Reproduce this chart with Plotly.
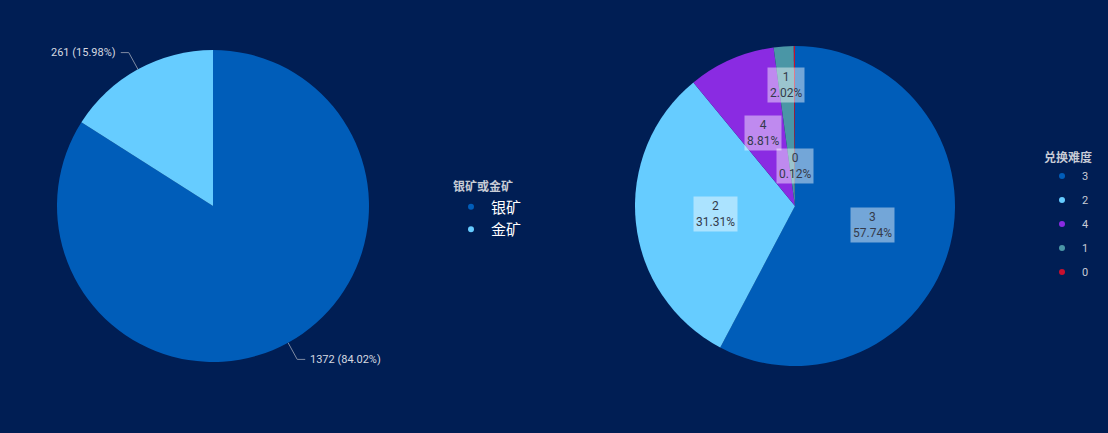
import math
import plotly.graph_objects as go

# ---------------- data ----------------
ore_labels = ["银矿", "金矿"]
ore_values = [1372, 261]

diff_labels = ["3", "2", "4", "1", "0"]
diff_pcts = [57.74, 31.31, 8.81, 2.02, 0.12]

# ---------------- style ----------------
W, H = 1108, 433
BG = "#001E54"
ore_colors = ["#005DB9", "#66CCFF"]
diff_colors = ["#005DB9", "#66CCFF", "#8A2BE2", "#4A96A6", "#C8102E"]
label_radius = [0.5, 0.5, 0.5, 0.76, 0.25]  # label placement factors for pie 2
FONT = "Roboto, 'Noto Sans CJK SC', sans-serif"

# pie geometry in pixels (centre, radius)
c1, r1 = (213, 206), 156
c2, r2 = (795, 206), 160


def dom(c, r):
    return dict(x=[(c[0] - r) / W, (c[0] + r) / W],
                y=[1 - (c[1] + r) / H, 1 - (c[1] - r) / H])


def px2paper(x, y):
    return x / W, 1 - y / H


fig = go.Figure()

fig.add_trace(go.Pie(
    labels=ore_labels, values=ore_values, sort=False, direction="clockwise",
    rotation=0, marker=dict(colors=ore_colors, line=dict(width=0)),
    textinfo="none", domain=dom(c1, r1), showlegend=False, hoverinfo="label+value+percent"))

fig.add_trace(go.Pie(
    labels=diff_labels, values=diff_pcts, sort=False, direction="clockwise",
    rotation=0, marker=dict(colors=diff_colors, line=dict(width=0)),
    textinfo="none", domain=dom(c2, r2), showlegend=False, hoverinfo="label+percent"))

# legend proxies (circle markers)
for lab, col in zip(ore_labels, ore_colors):
    fig.add_trace(go.Scatter(x=[None], y=[None], mode="markers", name=lab,
                             marker=dict(color=col, size=6, symbol="circle"),
                             legend="legend", legendgroup="o" + lab))
for lab, col in zip(diff_labels, diff_colors):
    fig.add_trace(go.Scatter(x=[None], y=[None], mode="markers", name=lab,
                             marker=dict(color=col, size=6, symbol="circle"),
                             legend="legend2", legendgroup="d" + lab))

annotations = []
shapes = []

# pie 1 outside labels with leader lines
tot1 = sum(ore_values)
cum = 0
for v in ore_values:
    frac = v / tot1
    mid = (cum + frac / 2) * 2 * math.pi
    cum += frac
    dx, dy = math.sin(mid), -math.cos(mid)
    p0 = (c1[0] + r1 * dx, c1[1] + r1 * dy)
    p1 = (c1[0] + (r1 + 19) * dx, c1[1] + (r1 + 19) * dy)
    side = 1 if dx >= 0 else -1
    p2 = (p1[0] + side * 8, p1[1])
    q0, q1, q2 = px2paper(*p0), px2paper(*p1), px2paper(*p2)
    shapes.append(dict(type="path", xref="paper", yref="paper",
                       path=f"M {q0[0]} {q0[1]} L {q1[0]} {q1[1]} L {q2[0]} {q2[1]}",
                       line=dict(color="#7F8BA3", width=1)))
    tx, ty = px2paper(p2[0] + side * 3, p2[1])
    annotations.append(dict(x=tx, y=ty, xref="paper", yref="paper", showarrow=False,
                            text=f"{v} ({frac * 100:.2f}%)",
                            xanchor="left" if side > 0 else "right", yanchor="middle",
                            font=dict(size=11, color="#D5D9E0", family=FONT)))

# pie 2 inside labels with translucent boxes
tot2 = sum(diff_pcts)
cum = 0
for lab, v, lr in zip(diff_labels, diff_pcts, label_radius):
    frac = v / tot2
    mid = (cum + frac / 2) * 2 * math.pi
    cum += frac
    rr = r2 * lr
    x, y = c2[0] + rr * math.sin(mid), c2[1] - rr * math.cos(mid)
    px, py = px2paper(x, y)
    annotations.append(dict(x=px, y=py, xref="paper", yref="paper", showarrow=False,
                            text=f"{lab}<br>{v:.2f}%", align="center",
                            xanchor="center", yanchor="middle",
                            bgcolor="rgba(255,255,255,0.45)", borderpad=2,
                            font=dict(size=12, color="#333A4A", family=FONT)))

fig.update_layout(
    width=W, height=H,
    paper_bgcolor=BG, plot_bgcolor=BG,
    margin=dict(l=0, r=0, t=0, b=0),
    xaxis=dict(visible=False), yaxis=dict(visible=False),
    font=dict(family=FONT),
    annotations=annotations, shapes=shapes,
    legend=dict(x=451 / W, y=1 - 175 / H, xanchor="left", yanchor="top",
                bgcolor="rgba(0,0,0,0)", tracegroupgap=0, itemwidth=30,
                title=dict(text="<b>银矿或金矿</b>", font=dict(size=12, color="#C8CCD6", family=FONT)),
                font=dict(size=15, color="#FFFFFF", family=FONT)),
    legend2=dict(x=1042 / W, y=1 - 146 / H, xanchor="left", yanchor="top",
                 bgcolor="rgba(0,0,0,0)", tracegroupgap=5, itemwidth=30,
                 title=dict(text="<b>兑换难度</b>", font=dict(size=12, color="#C8CCD6", family=FONT)),
                 font=dict(size=11, color="#C8CCD6", family=FONT)),
)

fig.write_html("out.html")
